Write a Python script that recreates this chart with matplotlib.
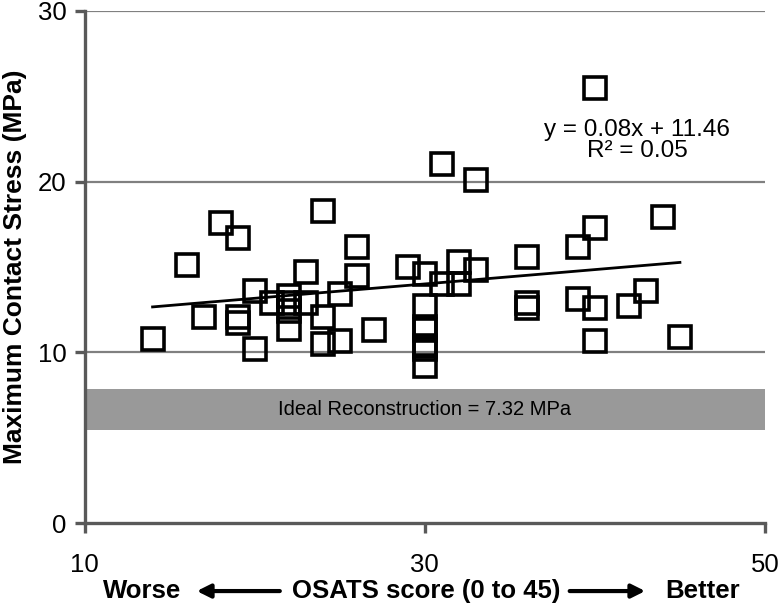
import numpy as np
import matplotlib
matplotlib.use("Agg")
import matplotlib.pyplot as plt

# OSATS score vs maximum contact stress
osats = [14, 16, 17, 18, 19, 19, 19, 20, 20, 21, 22, 22, 22, 22, 23, 23,
         24, 24, 24, 25, 25, 26, 26, 27, 29, 30, 30, 30, 30, 30, 30, 30,
         31, 31, 32, 32, 33, 33, 36, 36, 36, 39, 39, 40, 40, 40, 40, 42,
         43, 44, 45]
stress = [10.8, 15.1, 12.1, 17.6, 16.7, 12.1, 11.7, 13.6, 10.2, 12.9, 13.3,
          12.9, 12.4, 11.4, 14.7, 12.9, 18.3, 12.1, 10.5, 13.4, 10.7, 16.2,
          14.5, 11.3, 15.0, 14.6, 12.7, 11.5, 11.3, 10.4, 10.2, 9.2, 21.0,
          14.0, 15.3, 14.0, 20.1, 14.8, 15.6, 12.9, 12.6, 16.2, 13.1, 25.5,
          17.3, 12.6, 10.7, 12.7, 13.6, 17.9, 10.9]

slope, intercept = 0.084, 11.49
eq_line1 = "y = 0.08x + 11.46"
eq_line2 = "R\u00b2 = 0.05"
band_low, band_high = 5.45, 7.85
ideal_text = "Ideal Reconstruction = 7.32 MPa"

plt.rcParams['font.family'] = ['Liberation Sans', 'DejaVu Sans']

fig = plt.figure(figsize=(7.79, 6.10), dpi=100)
ax = fig.add_axes([0.1085, 0.142, 0.8735, 0.8405])

ax.axhspan(band_low, band_high, color="#999999", zorder=1, lw=0)
ax.text(30, (band_low + band_high) / 2, ideal_text, ha="center", va="center",
        fontsize=14.5, zorder=2)

for yv in (10, 20, 30):
    ax.axhline(yv, color="#808080", lw=1.6, zorder=0)

xs = np.array([min(osats), max(osats)])
ax.plot(xs, slope * xs + intercept, color="black", lw=2.0, zorder=3)
ax.plot(osats, stress, ls="none", marker="s", markersize=16.5, mfc="none",
        mec="black", mew=2.6, zorder=4)

ax.text(42.5, 23.0, eq_line1, ha="center", va="center", fontsize=17.5)
ax.text(42.5, 21.8, eq_line2, ha="center", va="center", fontsize=17.5)

ax.set_xlim(10, 50)
ax.set_ylim(0, 30)
ax.set_xticks([10, 30, 50])
ax.set_yticks([0, 10, 20, 30])
for s in ("top", "right"):
    ax.spines[s].set_visible(False)
for s in ("left", "bottom"):
    ax.spines[s].set_color("#595959")
    ax.spines[s].set_linewidth(2.4)
ax.tick_params(axis="both", colors="#595959", width=2.4, length=7,
               labelcolor="black", labelsize=18.5)
ax.tick_params(axis="x", pad=14)
ax.tick_params(axis="y", pad=6)

ax.set_ylabel("Maximum Contact Stress (MPa)", fontsize=19, fontweight="bold",
              labelpad=8)

yb = -0.132
kw = dict(transform=ax.transAxes, va="center", fontsize=18.5,
          fontweight="bold")
ax.text(0.0845, yb, "Worse", ha="center", **kw)
ax.text(0.502, yb, "OSATS score (0 to 45)", ha="center", **kw)
ax.text(0.908, yb, "Better", ha="center", **kw)
arrow = dict(arrowstyle="-|>,head_length=0.8,head_width=0.4",
             color="black", lw=3, shrinkA=0, shrinkB=0)
ax.annotate("", xy=(0.165, yb), xytext=(0.287, yb), xycoords="axes fraction",
            arrowprops=arrow)
ax.annotate("", xy=(0.824, yb), xytext=(0.713, yb), xycoords="axes fraction",
            arrowprops=arrow)

fig.savefig("out.png", dpi=100)
